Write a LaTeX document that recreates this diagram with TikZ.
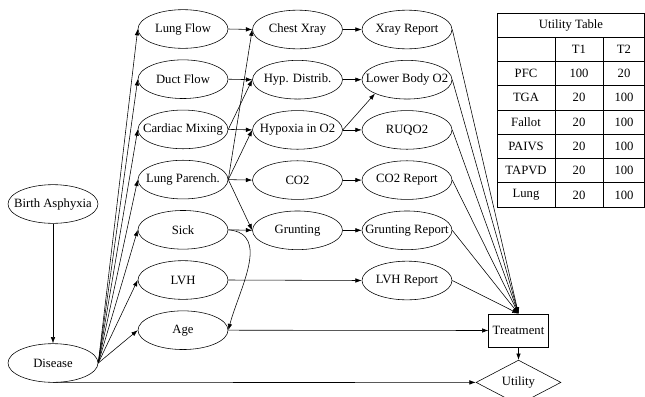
\documentclass[tikz,border=0pt]{standalone}
\usepackage{fontspec}
\setmainfont{Liberation Serif}
\usetikzlibrary{shapes.geometric,arrows.meta}

\begin{document}
\begin{tikzpicture}[x=0.025cm, y=-0.025cm, >={Latex[length=4.5pt,width=3.2pt]},
    every node/.style={font=\fontsize{9}{11}\selectfont},
    chance/.style={draw, ellipse, minimum width=64pt, minimum height=27.5pt, inner xsep=-8pt, inner ysep=0pt},
    decision/.style={draw, rectangle, minimum width=42.5pt, minimum height=23.5pt, inner sep=0pt},
    utilnode/.style={draw, diamond, minimum width=60.4pt, minimum height=22.8pt, inner sep=0pt}]
    \useasboundingbox (0,0) rectangle (645,396);

    % chance nodes
    \node[chance] (birth) at (53,204) {Birth Asphyxia};
    \node[chance] (disease) at (53,363) {Disease};
    \foreach \n/\t [count=\i from 0] in {lungflow/Lung Flow, ductflow/Duct Flow, cardiac/Cardiac Mixing, parench/Lung Parench., sick/Sick, lvh/LVH, age/Age}
        \node[chance] (\n) at (183,{29+50.2*\i}) {\t};
    \foreach \n/\t [count=\i from 0] in {chest/Chest Xray, hypdist/Hyp. Distrib., hypoxia/Hypoxia in O2, co2/CO2, grunting/Grunting}
        \node[chance] (\n) at (297.5,{29.5+50.2*\i}) {\t};
    \foreach \n/\t [count=\i from 0] in {xrayrep/Xray Report, lowerbody/Lower Body O2, ruqo2/RUQO2, co2rep/CO2 Report, gruntrep/Grunting Report, lvhrep/LVH Report}
        \node[chance] (\n) at (407,{29.5+50.2*\i}) {\t};

    \node[decision] (treatment) at (518.5,330.5) {Treatment};
    \node[utilnode] (utility) at (518.5,382.4) {Utility};

    % links
    \draw[->] (birth) -- (disease);
    \foreach \n in {lungflow, ductflow, cardiac, parench, sick, lvh, age}
        \draw[->] (disease.east) -- (\n.west);
    \draw[->] (disease.south) -- (utility.west);
    \foreach \a/\b in {lungflow/chest, ductflow/hypdist, cardiac/hypdist, cardiac/hypoxia, parench/chest, parench/hypoxia, parench/co2, parench/grunting, sick/grunting, lvh/lvhrep, chest/xrayrep, hypdist/lowerbody, hypoxia/ruqo2, co2/co2rep, grunting/gruntrep}
        \draw[->] (\a.east) -- (\b.west);
    \draw[->] (hypoxia.east) -- (lowerbody.south west);
    \draw[->] (sick.east) to[out=-5, in=75, looseness=1.1] (age.east);
    \foreach \n in {xrayrep, lowerbody, ruqo2, co2rep, gruntrep, lvhrep}
        \draw[->] (\n.east) -- (treatment.north);
    \draw[->] (age.east) -- (treatment.west);
    \draw[->] (treatment) -- (utility);

    % utility table
    \draw (497,13) rectangle (644.5,207);
    \foreach \i in {1,...,7}
        \draw (497,{13+24.25*\i}) -- (644.5,{13+24.25*\i});
    \draw (555,37.25) -- (555,207);
    \draw (603,37.25) -- (603,207);
    \node (tabhead) at (571,25.1) {Utility Table};
    \foreach \r/\a/\b [count=\i] in {/T1/T2, PFC/100/20, TGA/20/100, Fallot/20/100, PAIVS/20/100, TAPVD/20/100, Lung/20/100} {
        \node (row\i) at (526,{25.1+24.25*\i}) {\r};
        \node (ta\i) at (579,{25.1+24.25*\i}) {\a};
        \node (tb\i) at (624,{25.1+24.25*\i}) {\b};
    }
\end{tikzpicture}
\end{document}
